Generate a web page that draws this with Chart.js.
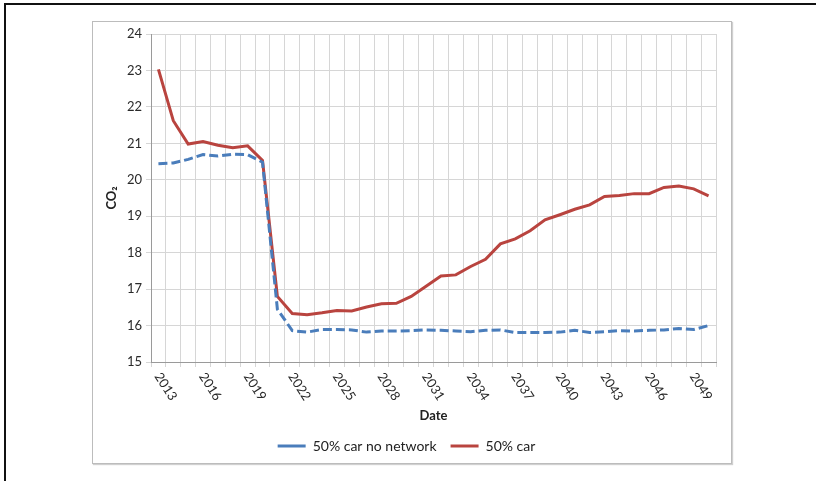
<!DOCTYPE html>
<html>
<head>
<meta charset="utf-8">
<script src="https://cdn.jsdelivr.net/npm/chart.js@4/dist/chart.umd.min.js"></script>
<style>
  html, body { margin: 0; padding: 0; background: #fff; }
  body { width: 816px; height: 481px; position: relative; overflow: hidden; }
  #frame {
    position: absolute; left: 4px; top: 3px; width: 812px; height: 478px;
    border-top: 2px solid #111; border-left: 2px solid #111; box-sizing: border-box;
  }
  #box {
    position: absolute; left: 92px; top: 21px; width: 640px; height: 443px;
    border: 1px solid #bcbcbc; box-sizing: border-box;
    box-shadow: 1px 1px 1px #d0d0d0;
  }
  #wrap { position: absolute; left: 93px; top: 22px; width: 638px; height: 441px; }
</style>
</head>
<body>
<div id="frame"></div>
<div id="box"></div>
<div id="wrap"><canvas id="myChart"></canvas></div>
<script>
var years = ['2013', '2014', '2015', '2016', '2017', '2018', '2019', '2020', '2021', '2022',
             '2023', '2024', '2025', '2026', '2027', '2028', '2029', '2030', '2031', '2032',
             '2033', '2034', '2035', '2036', '2037', '2038', '2039', '2040', '2041', '2042',
             '2043', '2044', '2045', '2046', '2047', '2048', '2049', '2050'];

var carNoNetwork = [20.44, 20.46, 20.56, 20.69, 20.65, 20.70, 20.69, 20.48, 16.45, 15.86,
                    15.82, 15.89, 15.89, 15.88, 15.82, 15.85, 15.85, 15.86, 15.88, 15.87,
                    15.85, 15.83, 15.87, 15.88, 15.81, 15.81, 15.81, 15.82, 15.87, 15.81,
                    15.83, 15.86, 15.85, 15.87, 15.88, 15.92, 15.89, 16.00];

var car = [23.03, 21.62, 20.98, 21.05, 20.95, 20.88, 20.93, 20.53, 16.80, 16.33,
           16.30, 16.35, 16.41, 16.40, 16.51, 16.60, 16.61, 16.80, 17.08, 17.36,
           17.39, 17.62, 17.82, 18.24, 18.38, 18.60, 18.90, 19.04, 19.19, 19.31,
           19.54, 19.57, 19.62, 19.62, 19.79, 19.83, 19.75, 19.56];

// only every third year gets a label under the axis
var yearLabels = ['2013', '2016', '2019', '2022', '2025', '2028', '2031', '2034', '2037',
                  '2040', '2043', '2046', '2049'];

var yTicks = [15, 16, 17, 18, 19, 20, 21, 22, 23, 24];

var FONT = 'Lato, "Open Sans", sans-serif';

// slanted year labels, reading downwards to the right
const slantedYears = {
    id: 'slantedYears',
    afterDraw(chart) {
        const ctx = chart.ctx;
        const xs = chart.scales.x;
        const bottom = chart.chartArea.bottom;
        ctx.save();
        ctx.font = '13px ' + FONT;
        ctx.fillStyle = '#2a2a2a';
        ctx.textAlign = 'left';
        ctx.textBaseline = 'middle';
        yearLabels.forEach(function(lbl) {
            const px = xs.getPixelForValue(years.indexOf(lbl));
            ctx.save();
            ctx.translate(px - 1, bottom + 12);
            ctx.rotate(57 * Math.PI / 180);
            ctx.fillText(lbl, 0, 0);
            ctx.restore();
        });
        ctx.restore();
    }
};

const ctx = document.getElementById('myChart');

new Chart(ctx, {
    type: 'line',
    data: {
        labels: years,
        datasets: [{
            label: '50% car no network',
            data: carNoNetwork,
            borderColor: '#4a7dbb',
            backgroundColor: '#4a7dbb',
            borderWidth: 3,
            borderDash: [9, 4],
            pointRadius: 0,
            tension: 0
        }, {
            label: '50% car',
            data: car,
            borderColor: '#b9443f',
            backgroundColor: '#b9443f',
            borderWidth: 3,
            pointRadius: 0,
            tension: 0
        }]
    },
    options: {
        responsive: true,
        maintainAspectRatio: false,
        animation: false,
        layout: { padding: { left: 4, right: 15, top: 12, bottom: 0 } },
        plugins: {
            tooltip: { enabled: false },
            legend: {
                position: 'bottom',
                labels: {
                    usePointStyle: true,
                    pointStyle: 'line',
                    pointStyleWidth: 28,
                    boxHeight: 14,
                    padding: 14,
                    color: '#222',
                    font: { family: FONT, size: 14 }
                }
            }
        },
        scales: {
            x: {
                offset: true,
                grid: {
                    offset: true,
                    color: '#d6d6d6',
                    lineWidth: 1,
                    tickLength: 5,
                    drawTicks: true
                },
                border: { color: '#9a9a9a', width: 1 },
                ticks: { display: false, autoSkip: false },
                title: {
                    display: true,
                    text: 'Date',
                    color: '#222',
                    font: { family: FONT, size: 13, weight: 'bold' },
                    padding: { top: 0, bottom: 1 }
                },
                afterFit: function(scale) { scale.height = 63; }
            },
            y: {
                min: 15,
                max: 24,
                afterBuildTicks: function(scale) {
                    scale.ticks = yTicks.map(v => ({ value: v }));
                },
                grid: { color: '#d6d6d6', tickLength: 5 },
                border: { color: '#9a9a9a', width: 1 },
                ticks: {
                    padding: 4,
                    color: '#2a2a2a',
                    font: { family: FONT, size: 13 }
                },
                title: {
                    display: true,
                    text: 'CO₂',
                    color: '#222',
                    font: { family: FONT, size: 13, weight: 'bold' },
                    padding: { top: 7, bottom: 0 }
                },
                afterFit: function(scale) { scale.width = 54; }
            }
        }
    },
    plugins: [slantedYears]
});
</script>
</body>
</html>
